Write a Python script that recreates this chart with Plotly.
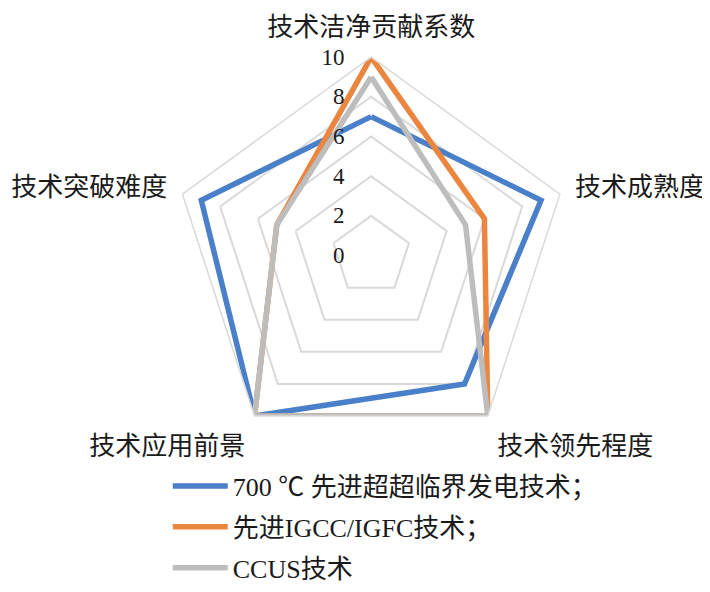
import plotly.graph_objects as go

categories = ["技术洁净贡献系数", "技术成熟度", "技术领先程度", "技术应用前景", "技术突破难度"]
series_names = ["700 ℃ 先进超超临界发电技术；", "先进IGCC/IGFC技术；", "CCUS技术"]
usc_700 = [7, 9, 8, 10, 9]
igcc = [10, 6, 10, 10, 5]
ccus = [9, 5, 10, 10, 5]
colors = ["#4a7fc9", "#ea8640", "#bdbdbd"]

fig = go.Figure()
for i, (name, vals) in enumerate(zip(series_names, [usc_700, igcc, ccus])):
    fig.add_trace(go.Scatterpolar(
        r=vals + vals[:1], theta=categories + categories[:1],
        mode="lines", name=name, legendgroup=str(i),
        line=dict(color=colors[i], width=5.5),
    ))

font_family = "Liberation Serif, Noto Sans CJK SC, serif"
fig.update_layout(
    width=710, height=592,
    margin=dict(l=0, r=0, t=0, b=0),
    paper_bgcolor="white",
    font=dict(family=font_family, color="#1a1a1a"),
    polar=dict(
        domain=dict(x=[0.232, 0.791], y=[0.2466, 0.9172]),
        bgcolor="white",
        gridshape="linear",
        radialaxis=dict(
            range=[0, 10], dtick=2, angle=90, side="counterclockwise",
            tickangle=90,
            showline=False, ticks="outside", ticklen=18,
            tickcolor="rgba(0,0,0,0)", gridcolor="#d9d9d9", gridwidth=1.5,
            tickfont=dict(size=23, family=font_family, color="#1a1a1a"),
        ),
        angularaxis=dict(
            direction="clockwise", rotation=90,
            showgrid=False, linecolor="#d9d9d9", linewidth=1.5,
            ticks="outside", ticklen=10, tickcolor="rgba(0,0,0,0)",
            tickfont=dict(size=26, family=font_family, color="#1a1a1a"),
        ),
    ),
    legend=dict(
        x=0.225, y=0.232, xanchor="left", yanchor="top",
        font=dict(size=26, family=font_family, color="#1a1a1a"),
        tracegroupgap=4, itemwidth=55,
    ),
)

fig.write_html("out.html")
